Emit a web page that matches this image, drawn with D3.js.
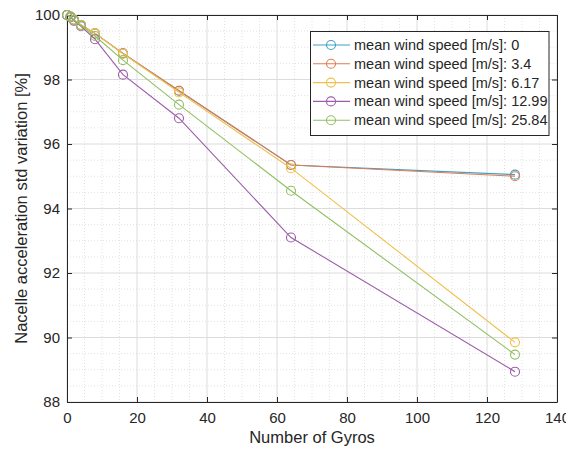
<!DOCTYPE html>
<html><head><meta charset="utf-8">
<script src="https://cdn.jsdelivr.net/npm/d3@7"></script>
<style>body{margin:0;background:#fff}svg{display:block;font-family:"Liberation Sans",Arial,sans-serif}</style>
</head><body><svg id="c" width="566" height="451"></svg>
<script>
const gyros = [0, 1, 2, 4, 8, 16, 32, 64, 128];
const windSpeeds = ["0", "3.4", "6.17", "12.99", "25.84"];
const s0 = [100, 99.95, 99.85, 99.69, 99.43, 98.81, 97.65, 95.35, 95.05];
const s34 = [100, 99.95, 99.85, 99.69, 99.43, 98.81, 97.65, 95.35, 95.0];
const s617 = [100, 99.95, 99.85, 99.69, 99.43, 98.8, 97.6, 95.25, 89.85];
const s1299 = [100, 99.93, 99.82, 99.65, 99.25, 98.15, 96.8, 93.1, 88.94];
const s2584 = [100, 99.94, 99.84, 99.67, 99.35, 98.6, 97.22, 94.55, 89.47];
const seriesValues = [s0, s34, s617, s1299, s2584];
const colors = ["#3f9fc6", "#e07b52", "#efc04a", "#9c5ca9", "#8fc063"];
const xTicks = [0, 20, 40, 60, 80, 100, 120, 140];
const yTicks = [88, 90, 92, 94, 96, 98, 100];

const svg = d3.select("#c");
const L = 67, R = 557, T = 15, B = 402;
const x = d3.scaleLinear().domain([0, 140]).range([L, R]);
const y = d3.scaleLinear().domain([88, 100]).range([B, T]);

// minor grid
const g = svg.append("g");
d3.range(0, 140.01, 5).forEach(v => {
  if (v % 20 !== 0) g.append("line").attr("x1", x(v)).attr("x2", x(v)).attr("y1", T).attr("y2", B)
    .attr("stroke", "#e2e2e2").attr("stroke-dasharray", "1,2");
});
d3.range(88, 100.01, 0.5).forEach(v => {
  if (Math.abs(v % 2) > 1e-6) g.append("line").attr("y1", y(v)).attr("y2", y(v)).attr("x1", L).attr("x2", R)
    .attr("stroke", "#e2e2e2").attr("stroke-dasharray", "1,2");
});
xTicks.forEach(v => g.append("line").attr("x1", x(v)).attr("x2", x(v)).attr("y1", T).attr("y2", B).attr("stroke", "#dcdcdc"));
yTicks.forEach(v => g.append("line").attr("y1", y(v)).attr("y2", y(v)).attr("x1", L).attr("x2", R).attr("stroke", "#dcdcdc"));

// axes
const tc = "#262626";
const xa = svg.append("g").attr("transform", `translate(0,${B})`)
  .call(d3.axisBottom(x).tickValues(xTicks).tickSizeInner(-5).tickSizeOuter(0).tickPadding(10));
const xt = svg.append("g").attr("transform", `translate(0,${T})`)
  .call(d3.axisTop(x).tickValues(xTicks).tickSizeInner(-5).tickSizeOuter(0).tickFormat(""));
const ya = svg.append("g").attr("transform", `translate(${L},0)`)
  .call(d3.axisLeft(y).tickValues(yTicks).tickSizeInner(-5).tickSizeOuter(0).tickPadding(7));
const yr = svg.append("g").attr("transform", `translate(${R},0)`)
  .call(d3.axisRight(y).tickValues(yTicks).tickSizeInner(-5).tickSizeOuter(0).tickFormat(""));
[xa, xt, ya, yr].forEach(a => {
  a.selectAll("path").attr("stroke", tc);
  a.selectAll("line").attr("stroke", tc);
  a.selectAll("text").attr("fill", tc).style("font-size", "15px").style("font-family", "'Liberation Sans',Arial,sans-serif");
});

// series
const line = d3.line().x((d, i) => x(gyros[i])).y(d => y(d));
seriesValues.forEach((vals, k) => {
  const sg = svg.append("g");
  sg.append("path").datum(vals).attr("d", line).attr("fill", "none").attr("stroke", colors[k]).attr("stroke-width", 1.1);
  sg.selectAll("circle").data(vals).enter().append("circle")
    .attr("cx", (d, i) => x(gyros[i])).attr("cy", d => y(d)).attr("r", 4.5)
    .attr("fill", "none").attr("stroke", colors[k]).attr("stroke-width", 1.1);
});

// labels
svg.append("text").attr("x", 312).attr("y", 443).attr("text-anchor", "middle")
  .attr("fill", tc).style("font-size", "16.5px").text("Number of Gyros");
svg.append("text").attr("transform", `translate(27,${(T + B) / 2}) rotate(-90)`).attr("text-anchor", "middle")
  .attr("fill", tc).style("font-size", "16.5px").text("Nacelle acceleration std variation [%]");

// legend
const lg = svg.append("g");
lg.append("rect").attr("x", 310.5).attr("y", 31.5).attr("width", 238.5).attr("height", 104)
  .attr("fill", "#fff").attr("stroke", tc).attr("stroke-width", 1);
windSpeeds.forEach((w, k) => {
  const yy = 45 + k * 18.8;
  lg.append("line").attr("x1", 313).attr("x2", 350).attr("y1", yy).attr("y2", yy).attr("stroke", colors[k]).attr("stroke-width", 1.1);
  lg.append("circle").attr("cx", 331).attr("cy", yy).attr("r", 4.5).attr("fill", "none").attr("stroke", colors[k]).attr("stroke-width", 1.1);
  lg.append("text").attr("x", 354).attr("y", yy + 5).attr("fill", tc).style("font-size", "14.5px")
    .text("mean wind speed [m/s]: " + w);
});
</script></body></html>
